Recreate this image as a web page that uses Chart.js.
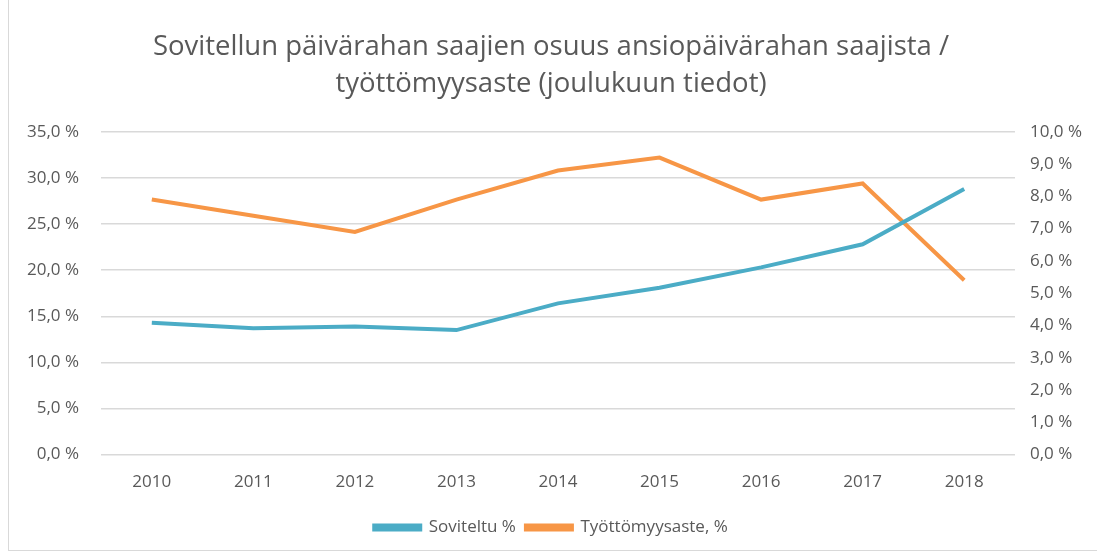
<!DOCTYPE html>
<html>
<head>
<meta charset="utf-8">
<script src="https://cdn.jsdelivr.net/npm/chart.js@4"></script>
<style>
  html, body { margin: 0; padding: 0; background: #fff; }
  #wrap { position: relative; width: 1097px; height: 557px; }
  #frame { position: absolute; left: 8px; top: -2px; width: 1100px; height: 553px; border: 1px solid #d9d9d9; box-sizing: border-box; }
  canvas { position: absolute; left: 0; top: 0; }
</style>
</head>
<body>
<div id="wrap">
  <div id="frame"></div>
  <canvas id="chart" width="1097" height="557"></canvas>
</div>
<script>
// values
const years = ['2010', '2011', '2012', '2013', '2014', '2015', '2016', '2017', '2018'];
const soviteltu = [14.3, 13.7, 13.9, 13.5, 16.4, 18.1, 20.3, 22.8, 28.8];
const tyottomyys = [7.9, 7.4, 6.9, 7.9, 8.8, 9.2, 7.9, 8.4, 5.4];
const titleLines = ['Sovitellun päivärahan saajien osuus ansiopäivärahan saajista /', 'työttömyysaste (joulukuun tiedot)'];

const font = "'Open Sans', 'Noto Sans', sans-serif";
const grey = '#595959';
const pct = v => v.toFixed(1).replace('.', ',') + ' %';

new Chart(document.getElementById('chart'), {
  type: 'line',
  data: {
    labels: years,
    datasets: [
      { label: 'Soviteltu %', data: soviteltu, yAxisID: 'y', borderColor: '#4bacc6', backgroundColor: '#4bacc6', borderWidth: 4, pointRadius: 0, tension: 0 },
      { label: 'Työttömyysaste, %', data: tyottomyys, yAxisID: 'y1', borderColor: '#f79646', backgroundColor: '#f79646', borderWidth: 4, pointRadius: 0, tension: 0 }
    ]
  },
  options: {
    responsive: false,
    animation: false,
    layout: { padding: { left: 5, right: 0, top: 28, bottom: 11 } },
    plugins: {
      title: { display: true, text: titleLines, color: grey, font: { family: font, size: 27.5, weight: 'normal', lineHeight: 1.36 }, padding: { top: 0, bottom: 29 } },
      legend: {
        position: 'bottom',
        labels: { color: grey, font: { family: font, size: 17 }, boxWidth: 46, boxHeight: 4, padding: 10 }
      },
      tooltip: { enabled: false }
    },
    scales: {
      x: {
        offset: true,
        grid: { display: false, drawTicks: false },
        border: { display: false },
        ticks: { color: grey, font: { family: font, size: 17 }, padding: 17 }
      },
      y: {
        position: 'left', min: 0, max: 35,
        grid: { color: '#d9d9d9', lineWidth: 1.5, drawTicks: false },
        border: { display: false },
        ticks: { stepSize: 5, color: grey, font: { family: font, size: 17 }, padding: 22, callback: v => pct(v) }
      },
      y1: {
        position: 'right', min: 0, max: 10,
        grid: { display: false, drawTicks: false },
        border: { display: false },
        ticks: { stepSize: 1, color: grey, font: { family: font, size: 17 }, padding: 15, callback: v => pct(v) }
      }
    }
  }
});
</script>
</body>
</html>
